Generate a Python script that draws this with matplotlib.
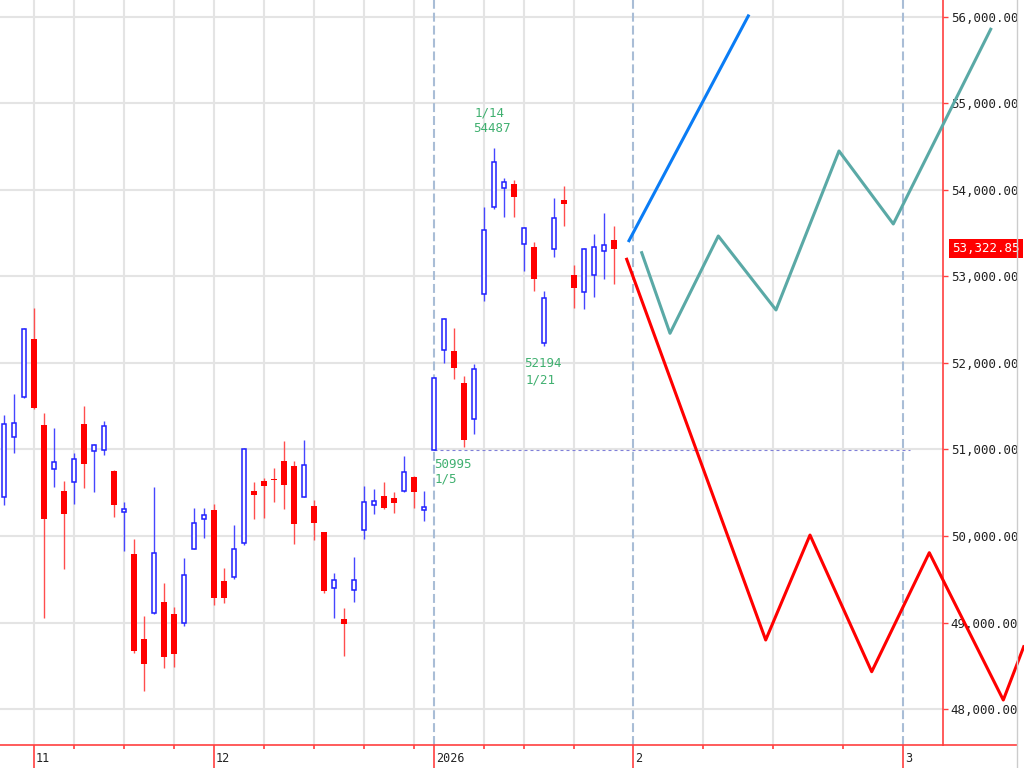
import numpy as np
import matplotlib
matplotlib.use('Agg')
import matplotlib.pyplot as plt
from matplotlib.ticker import FuncFormatter, FixedLocator
from matplotlib.transforms import blended_transform_factory, ScaledTranslation
from matplotlib.lines import Line2D

# daily OHLC, 2025/11/04 .. 2026/01/30
opens = np.array([50447, 51141, 51610, 52281, 51283, 50774, 50520, 50628, 51298, 50979,
                  50991, 50751, 50274, 49795, 48813, 49113, 49233, 49102, 48997, 49853,
                  50196, 50300, 49480, 49522, 49922, 50520, 50636, 50662, 50867, 50813,
                  50454, 50347, 50043, 49402, 49044, 49376, 50069, 50358, 50462, 50436,
                  50520, 50678, 50300, 50995, 52147, 52139, 51765, 51352, 52798, 53807,
                  54027, 54066, 53376, 53337, 52230, 53318, 53884, 53017, 52824, 53014,
                  53291, 53422])
highs = np.array([51399, 51641, 52401, 52632, 51418, 51245, 50636, 50956, 51503, 51060,
                  51333, 50760, 50393, 49962, 49075, 50563, 49453, 49176, 49742, 50320,
                  50320, 50370, 49626, 50127, 51014, 50621, 50667, 50782, 51098, 50867,
                  51110, 50416, 50050, 49569, 49164, 49760, 50581, 50540, 50628, 50512,
                  50928, 50697, 50524, 51840, 52518, 52401, 51850, 51985, 53800, 54487,
                  54142, 54116, 53570, 53395, 52832, 53911, 54046, 53133, 53330, 53495,
                  53731, 53584])
lows = np.array([50358, 50963, 51592, 51470, 49048, 50570, 49615, 50370, 50551, 50512,
                 50936, 50223, 49830, 48651, 48211, 49098, 48477, 48489, 48959, 49845,
                 49973, 49202, 49222, 49503, 49896, 50196, 50204, 50396, 50309, 49907,
                 50447, 49954, 49344, 49055, 48616, 49240, 49965, 50251, 50309, 50262,
                 50512, 50320, 50177, 50995, 52003, 51811, 51032, 51179, 52720, 53780,
                 53691, 53691, 53067, 52836, 52194, 53229, 53587, 52632, 52621, 52766,
                 52968, 52910])
closes = np.array([51295, 51310, 52393, 51483, 50196, 50859, 50254, 50893, 50832, 51052,
                   51268, 50358, 50316, 48674, 48520, 49807, 48604, 48636, 49549, 50154,
                   50243, 49287, 49287, 49853, 51006, 50470, 50578, 50644, 50586, 50135,
                   50821, 50154, 49367, 49491, 48982, 49491, 50389, 50404, 50327, 50385,
                   50736, 50512, 50332, 51832, 52512, 51946, 51110, 51934, 53537, 54327,
                   54096, 53922, 53564, 52971, 52755, 53680, 53838, 52870, 53321, 53344,
                   53364, 53322.85])

# projection lines
blue_x = [62.5, 74.43]
blue_y = [53414, 56012]
teal_x = [63.77, 66.6, 71.43, 77.2, 83.5, 88.93, 98.67]
teal_y = [53275, 52343, 53468, 52613, 54451, 53607, 55858]
red_x = [62.27, 76.17, 80.6, 86.77, 92.53, 99.93, 101.97]
red_y = [53199, 48798, 50011, 48431, 49807, 48104, 48720]

# axis positions
week_grid = [3, 7, 12, 17, 21, 26, 31, 36, 41, 48, 52, 57, 69.9, 76.9, 83.9]
month_pos = [3, 21, 43, 62.9, 89.9]
month_labels = ['11', '12', '2026', '2', '3']
year_lines = [43, 62.9, 89.9]
y_ticks = list(range(48000, 56001, 1000))
last_price = 53322.85
base_price = 50995

plt.rcParams['font.family'] = 'DejaVu Sans Mono'

fig = plt.figure(figsize=(10.24, 7.68), dpi=100)
ax = fig.add_axes([0, 23 / 768, 943 / 1024, 745 / 768])
ax.set_xlim(-0.4, 93.9)
ax.set_ylim(47584, 56196)

# grid
for gx in week_grid:
    ax.axvline(gx, color='#e4e4e4', lw=1.5, zorder=0)
for gy in y_ticks:
    ax.axhline(gy, color='#e4e4e4', lw=1.5, zorder=0)
for lx in year_lines:
    ax.axvline(lx, color='#a9bdd6', lw=1.5, ls=(0, (4.3, 1.9)), zorder=1)
ax.hlines(base_price, 43, 90.6, color='#8080d8', lw=0.8, ls=(0, (2.7, 2.7)), zorder=1)

# candles
x = np.arange(len(opens))
up = closes >= opens
dn = ~up
ax.vlines(x[up], lows[up], highs[up], color='#4646ff', lw=1, zorder=3)
ax.vlines(x[dn], lows[dn], highs[dn], color='#ff4d4d', lw=1, zorder=3)
ax.bar(x[up], closes[up] - opens[up], bottom=opens[up], width=0.45,
       facecolor='white', edgecolor='#1f1fff', lw=1.1, zorder=4)
ax.bar(x[dn], opens[dn] - closes[dn], bottom=closes[dn], width=0.6,
       color='#ff0000', lw=0, zorder=4)

# projections
ax.plot(blue_x, blue_y, color='#0a7cf5', lw=2.2, zorder=5, clip_on=False)
ax.plot(teal_x, teal_y, color='#5aa9a6', lw=2.2, zorder=5, clip_on=False)
ax.plot(red_x, red_y, color='#ff0000', lw=2.2, zorder=5, clip_on=False)

# high / low notes
green = '#40b070'
hi_i = int(np.argmax(highs))
lo_i = 54
notes = [
    ('1/14', (hi_i, highs[hi_i]), (-19, 41)),
    ('%d' % highs[hi_i], (hi_i, highs[hi_i]), (-21, 26)),
    ('%d' % lows[lo_i], (lo_i, lows[lo_i]), (-20, -11)),
    ('1/21', (lo_i, lows[lo_i]), (-18, -27)),
    ('%d' % base_price, (43, base_price), (0, -8)),
    ('1/5', (43, base_price), (1, -23)),
]
for txt, xy, off in notes:
    ax.annotate(txt, xy=xy, xytext=off, textcoords='offset pixels',
                ha='left', va='top', color=green, fontsize=9, zorder=6)

# axes styling
for s in ['top', 'left']:
    ax.spines[s].set_visible(False)
for s in ['right', 'bottom']:
    ax.spines[s].set_color('#ff4040')
    ax.spines[s].set_linewidth(1.2)

ax.yaxis.tick_right()
ax.set_yticks(y_ticks)
ax.yaxis.set_major_formatter(FuncFormatter(lambda v, p: f'{v:,.2f}'))
ax.tick_params(axis='y', which='major', direction='out', length=3.5, width=1,
               color='#ff4040', labelsize=9, pad=2, labelcolor='#222222')

ax.set_xticks(month_pos)
ax.set_xticklabels(month_labels)
ax.xaxis.set_minor_locator(FixedLocator([g for g in week_grid if g not in month_pos]))
ax.tick_params(axis='x', which='major', direction='out', length=16.5, width=1.2,
               color='#ff4040', labelsize=8.5, pad=-11.5, labelcolor='#222222')
ax.tick_params(axis='x', which='minor', direction='out', length=3, width=1.2,
               color='#ff4040')
shift = ScaledTranslation(2 / 100, 0, fig.dpi_scale_trans)
for lbl in ax.get_xticklabels():
    lbl.set_horizontalalignment('left')
    lbl.set_transform(lbl.get_transform() + shift)

# last price tag
tr = blended_transform_factory(ax.transAxes, ax.transData)
ax.text(952 / 943, last_price, f'{last_price:,.2f}', transform=tr, color='white',
        ha='left', va='center', fontsize=9, clip_on=False, zorder=7,
        bbox=dict(boxstyle='square,pad=0.25', fc='#ff0000', ec='none'))

# frame bits outside the axes
fig.add_artist(Line2D([943 / 1024, 1017 / 1024], [23 / 768, 23 / 768],
                      transform=fig.transFigure, color='#ff4040', lw=1.2))
fig.add_artist(Line2D([1017 / 1024, 1017 / 1024], [0, 1],
                      transform=fig.transFigure, color='#cccccc', lw=1))

fig.savefig('out.png', dpi=100)
